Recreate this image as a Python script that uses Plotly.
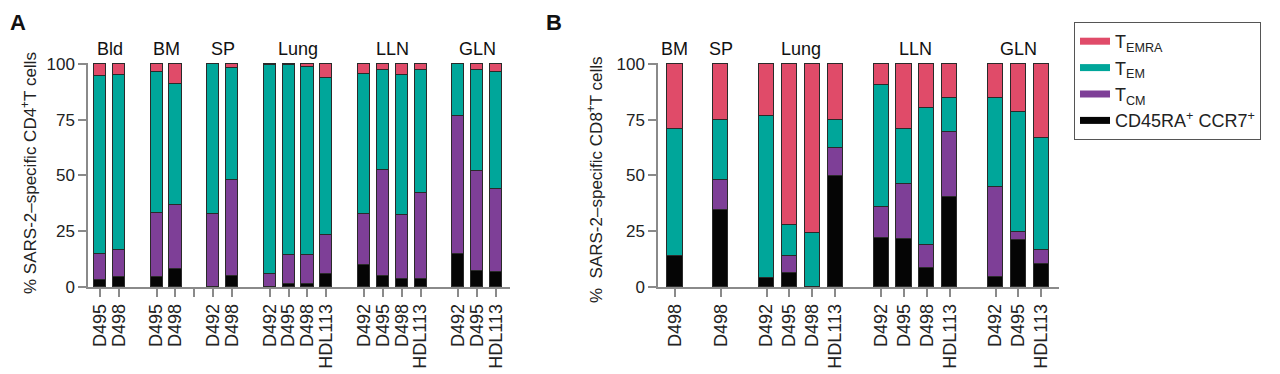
import plotly.graph_objects as go

# ---------------- data ----------------
subsets = ["CD45RA<sup>+</sup> CCR7<sup>+</sup>", "T<sub>CM</sub>", "T<sub>EM</sub>", "T<sub>EMRA</sub>"]

# Panel A (CD4)
groups_A = ["Bld", "BM", "SP", "Lung", "LLN", "GLN"]
donors_A = [["D495", "D498"], ["D495", "D498"], ["D492", "D498"],
            ["D492", "D495", "D498", "HDL113"], ["D492", "D495", "D498", "HDL113"],
            ["D492", "D495", "HDL113"]]
A_naive = [3.3, 4.6, 4.6, 8.2, 0.0, 5.2, 0.0, 1.5, 1.5, 5.7, 10.0, 4.9, 3.6, 3.6, 15.1, 7.2, 6.7]
A_cm    = [11.7, 12.2, 28.8, 28.8, 32.9, 43.0, 6.0, 13.0, 13.0, 17.5, 22.6, 47.8, 28.7, 38.8, 61.5, 45.0, 37.5]
A_em    = [79.8, 78.3, 62.9, 54.0, 67.1, 49.9, 93.5, 85.2, 84.3, 70.7, 62.8, 44.8, 62.6, 55.1, 23.4, 45.3, 52.2]
A_emra  = [5.2, 4.9, 3.7, 9.0, 0.0, 1.9, 0.5, 0.3, 1.2, 6.1, 4.6, 2.5, 5.1, 2.5, 0.0, 2.5, 3.6]

# Panel B (CD8)
groups_B = ["BM", "SP", "Lung", "LLN", "GLN"]
donors_B = [["D498"], ["D498"], ["D492", "D495", "D498", "HDL113"],
            ["D492", "D495", "D498", "HDL113"], ["D492", "D495", "HDL113"]]
B_naive = [13.8, 34.5, 4.1, 6.5, 0.0, 49.7, 22.2, 21.8, 8.4, 40.5, 4.4, 21.2, 10.5]
B_cm    = [0.0, 13.5, 0.0, 7.3, 0.0, 12.6, 13.8, 24.4, 10.5, 29.2, 40.3, 3.4, 6.3]
B_em    = [57.2, 27.1, 72.8, 14.3, 24.3, 12.5, 54.8, 24.5, 61.6, 15.3, 40.3, 53.8, 50.3]
B_emra  = [29.0, 24.9, 23.1, 71.9, 75.7, 25.2, 9.2, 29.3, 19.5, 15.0, 15.0, 21.6, 32.9]

colors = ["#050505", "#7E3F97", "#00A69A", "#E04B69"]


def layout_positions(donors):
    pos, centers, gaps = [], [], []
    p = 0
    for gi, ds in enumerate(donors):
        if gi > 0:
            gaps.append(p)
            p += 1
        start = p
        for _ in ds:
            pos.append(p)
            p += 1
        centers.append((start + p - 1) / 2)
    return pos, centers, gaps


posA, centA, gapsA = layout_positions(donors_A)
posB, centB, gapsB = layout_positions(donors_B)
# in panel A the gap between BM and SP carries an unlabeled tick
posA_ticks = posA + [gapsA[1]]
labA = [d for ds in donors_A for d in ds] + [""]
labB = [d for ds in donors_B for d in ds]

fig = go.Figure()
A_vals = [A_naive, A_cm, A_em, A_emra]
B_vals = [B_naive, B_cm, B_em, B_emra]
line = dict(color="#2a2a2a", width=1)
for i in range(4):
    fig.add_trace(go.Bar(x=posA, y=A_vals[i], name=subsets[i], marker=dict(color=colors[i], line=line),
                         width=0.64, xaxis="x", yaxis="y", showlegend=False))
for i in range(4):
    fig.add_trace(go.Bar(x=posB, y=B_vals[i], name=subsets[i], marker=dict(color=colors[i], line=line),
                         width=0.66, xaxis="x2", yaxis="y2", showlegend=False))
# legend-only entries (wide short swatches)
for i in [3, 2, 1, 0]:
    fig.add_trace(go.Scatter(x=[None], y=[None], mode="lines", name=subsets[i],
                             line=dict(color=colors[i], width=7), xaxis="x2", yaxis="y2",
                             showlegend=True))

H = 374.0
W = 1280.0
O = 8.0  # page body offset of the plot div


def px_x(x):
    return (x - O) / W


def px_y(y):
    return (H - (y - O)) / H


ydom = [px_y(287), px_y(62.8)]
axcol = "#8a8a8a"
FONT = "Liberation Sans, Arial, sans-serif"
common_y = dict(range=[0, 100.5], tickvals=[0, 25, 50, 75, 100], ticks="outside", ticklen=8,
                tickwidth=1.5, tickcolor=axcol, showline=True, linecolor=axcol, linewidth=1.5,
                showgrid=False, zeroline=False, tickfont=dict(family=FONT, size=17, color="#222"),
                fixedrange=True, automargin=False)
common_x = dict(ticks="outside", ticklen=8, tickwidth=1.5, tickcolor=axcol, showline=True,
                linecolor=axcol, linewidth=1.5, showgrid=False, zeroline=False, tickangle=-90,
                tickfont=dict(family=FONT, size=18, color="#222"), automargin=False)

fig.update_layout(
    width=1280, height=374, margin=dict(l=0, r=0, t=0, b=0, autoexpand=False),
    plot_bgcolor="white", paper_bgcolor="white", barmode="stack", bargap=0,
    font=dict(family=FONT, size=18, color="#222"),
    xaxis=dict(domain=[px_x(88), px_x(510)], range=[-0.64, 21.74], tickvals=posA_ticks, ticktext=labA,
               anchor="y", **common_x),
    yaxis=dict(domain=ydom, anchor="x", **common_y),
    xaxis2=dict(domain=[px_x(658), px_x(1059)], range=[-0.74, 16.77], tickvals=posB, ticktext=labB,
                anchor="y2", **common_x),
    yaxis2=dict(domain=ydom, anchor="x2", **common_y),
    legend=dict(x=px_x(1074), y=px_y(22), xanchor="left", yanchor="top", bordercolor="#555",
                borderwidth=1, font=dict(size=18, color="#222"), traceorder="normal",
                itemwidth=30, tracegroupgap=0, bgcolor="white"),
)

ann = []
for g, c in zip(groups_A, centA):
    ann.append(dict(text=g, x=c, xref="x", y=px_y(37), yref="paper", showarrow=False,
                    font=dict(size=18, color="#111")))
for g, c in zip(groups_B, centB):
    ann.append(dict(text=g, x=c, xref="x2", y=px_y(37), yref="paper", showarrow=False,
                    font=dict(size=18, color="#111")))
ann.append(dict(text="% SARS-2\u2013specific CD4<sup>+</sup>T cells", x=px_x(29), y=px_y(173),
                xref="paper", yref="paper", textangle=-90, showarrow=False,
                xanchor="center", yanchor="middle", font=dict(size=17, color="#222")))
ann.append(dict(text="%\u00a0\u00a0SARS-2\u2013specific CD8<sup>+</sup>T cells", x=px_x(595), y=px_y(180),
                xref="paper", yref="paper", textangle=-90, showarrow=False,
                xanchor="center", yanchor="middle", font=dict(size=17, color="#222")))
ann.append(dict(text="<b>A</b>", x=0, y=1, xref="paper", yref="paper",
                xanchor="left", yanchor="top", showarrow=False, font=dict(size=22, color="#111")))
ann.append(dict(text="<b>B</b>", x=px_x(544), y=1, xref="paper", yref="paper",
                xanchor="left", yanchor="top", showarrow=False, font=dict(size=22, color="#111")))
fig.update_layout(annotations=ann)

fig.write_html("out.html")
